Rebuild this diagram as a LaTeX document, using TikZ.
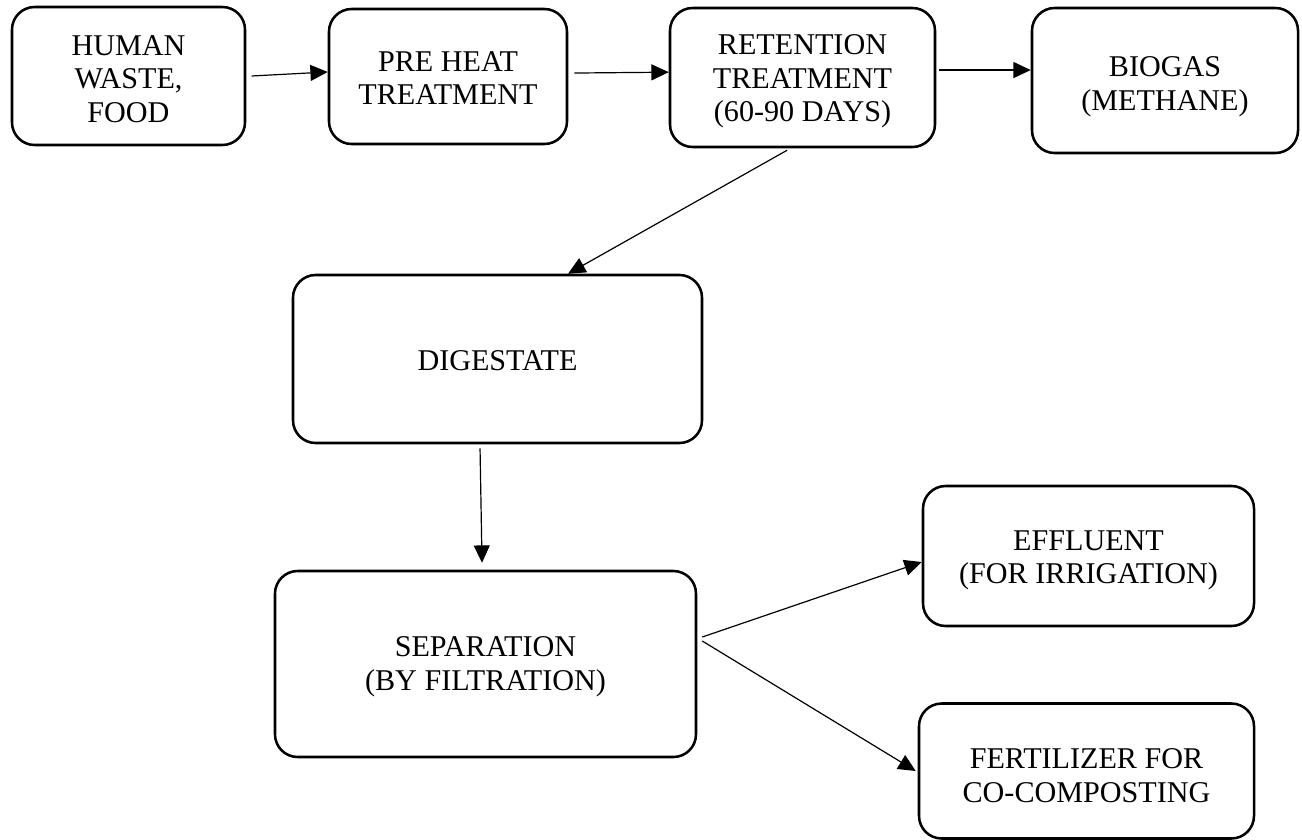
\documentclass[tikz,border=0pt]{standalone}
\usepackage{fontspec}
\setmainfont{Liberation Serif}
\usetikzlibrary{arrows.meta}
\begin{document}
\begin{tikzpicture}[x=0.75pt,y=-0.75pt,
  box/.style={draw, line width=1.9pt, rounded corners=17pt, inner sep=0pt},
  txt/.style={align=center, inner sep=0pt, font=\fontsize{22.6}{25.1}\selectfont},
  arr/.style={line width=0.9pt, -{Triangle[length=13pt,width=12pt]}}]
\useasboundingbox (0,0) rectangle (1302,839);
\node[box, minimum width=174.75pt, minimum height=103.5pt] (b1) at (128.5,76) {};
\node[box, minimum width=178.5pt, minimum height=101.25pt] (b2) at (448,76.5) {};
\node[box, minimum width=198.75pt, minimum height=104.25pt] (b3) at (802.5,77.5) {};
\node[box, minimum width=199.5pt, minimum height=108.75pt] (b4) at (1165,80.5) {};
\node[box, minimum width=306.75pt, minimum height=126pt] (b5) at (497.5,359) {};
\node[box, minimum width=315.75pt, minimum height=139.5pt] (b6) at (485.5,664) {};
\node[box, minimum width=248.25pt, minimum height=105pt] (b7) at (1088.5,556) {};
\node[box, minimum width=251.25pt, minimum height=101.25pt] (b8) at (1086.5,771) {};

\node[txt] (t1) at (128.5,79) {HUMAN\\WASTE,\\FOOD};
\node[txt] (t2) at (448,78) {PRE HEAT\\TREATMENT};
\node[txt] (t3) at (802.5,81.5) {RETENTION\\TREATMENT\\(60-90 DAYS)};
\node[txt] (t4) at (1165,86.5) {BIOGAS\\(METHANE)};
\node[txt] (t5) at (497.5,361) {DIGESTATE};
\node[txt] (t6) at (485.5,666.5) {SEPARATION\\(BY FILTRATION)};
\node[txt] (t7) at (1088.5,560.5) {EFFLUENT\\(FOR IRRIGATION)};
\node[txt] (t8) at (1086.5,775.5) {FERTILIZER FOR\\CO-COMPOSTING};

\draw[arr] ([xshift=4pt]b1.east) -- ([yshift=3.4pt]b2.west);
\draw[arr] ([xshift=4.5pt,yshift=2.6pt]b2.east) -- ([yshift=4pt]b3.west);
\draw[arr] ([xshift=2.25pt,yshift=5.6pt]b3.east) -- ([yshift=5.6pt]b3.east -| b4.west);
\draw[arr] ([xshift=-11.6pt,yshift=-1.5pt]b3.south) -- ([xshift=52.9pt]b5.north);
\draw[arr] ([xshift=-13.1pt,yshift=-3pt]b5.south) -- ([xshift=-2.6pt,yshift=5.25pt]b6.north);
\draw[arr] ([xshift=3.75pt,yshift=20.25pt]b6.east) -- ([yshift=-4.5pt]b7.west);
\draw[arr] ([xshift=3.75pt,yshift=17.25pt]b6.east) -- ([xshift=-1.5pt]b8.west);
\end{tikzpicture}
\end{document}
